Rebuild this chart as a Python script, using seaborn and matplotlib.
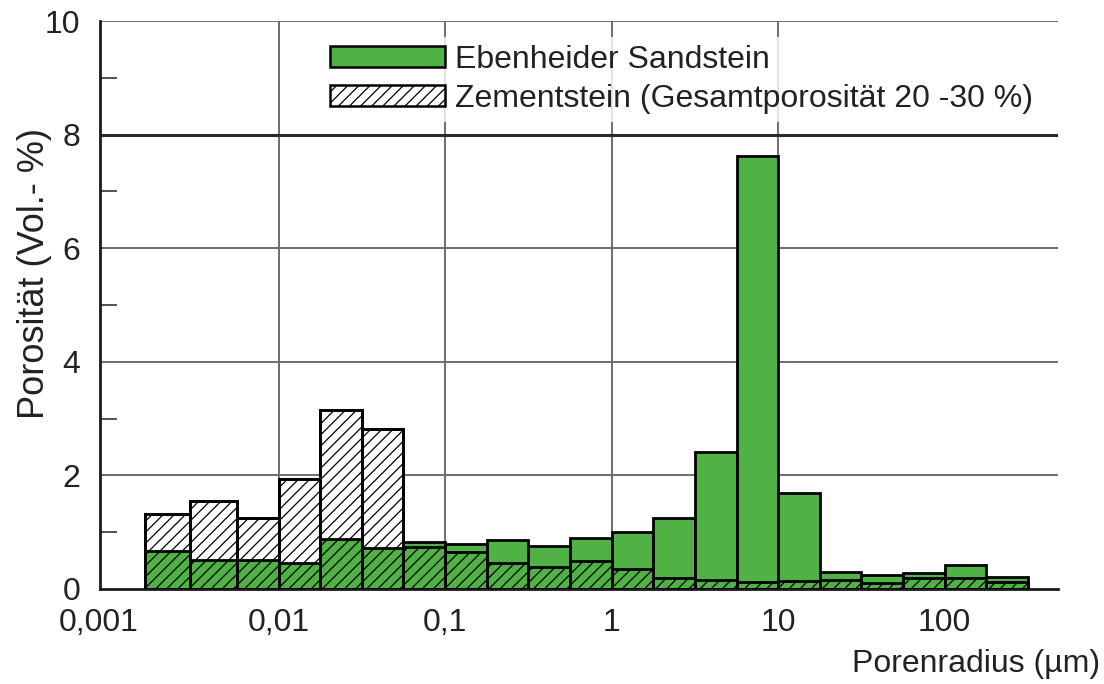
import numpy as np
import pandas as pd
import matplotlib.pyplot as plt
import matplotlib.ticker as mticker
import matplotlib.transforms as mtransforms
from matplotlib.patches import Patch
import seaborn as sns

# bin edges as log10 of pore radius (um)
bin_edges_log = [-2.80, -2.53, -2.25, -2.00, -1.75, -1.50, -1.25, -1.00, -0.75, -0.50, -0.25,
                 0.00, 0.25, 0.50, 0.75, 1.00, 1.25, 1.50, 1.75, 2.00, 2.25, 2.50]

sandstein = [0.67, 0.51, 0.51, 0.46, 0.88, 0.72, 0.83, 0.79, 0.86, 0.76, 0.90,
             1.00, 1.25, 2.41, 7.63, 1.69, 0.30, 0.25, 0.28, 0.42, 0.21]
zementstein = [1.32, 1.55, 1.25, 1.93, 3.15, 2.81, 0.74, 0.65, 0.46, 0.39, 0.49,
               0.35, 0.19, 0.15, 0.12, 0.14, 0.16, 0.11, 0.19, 0.19, 0.12]

x_ticks = [0.001, 0.01, 0.1, 1, 10, 100]
x_ticklabels = ["0,001", "0,01", "0,1", "1", "10", "100"]

green = "#50b245"

edges = np.array(bin_edges_log)
df = pd.DataFrame({
    "radius": 10 ** ((edges[:-1] + edges[1:]) / 2),
    "sand": sandstein,
    "zement": zementstein,
})

sns.set_style("white")
plt.rcParams["font.family"] = ["Liberation Sans", "DejaVu Sans"]
plt.rcParams["hatch.linewidth"] = 0.9

fig = plt.figure(figsize=(11.04, 6.84), dpi=100)
ax = fig.add_axes([100 / 1104, 1 - 589 / 684, 958 / 1104, 568 / 684])

lw = 2.0
# white Zementstein bars behind, then the sandstone, then the hatch on top
sns.histplot(data=df, x="radius", weights="zement", bins=bin_edges_log, log_scale=True,
             color="white", edgecolor="black", linewidth=lw, alpha=1, ax=ax, zorder=3)
sns.histplot(data=df, x="radius", weights="sand", bins=bin_edges_log, log_scale=True,
             color=green, edgecolor="black", linewidth=lw, alpha=1, ax=ax, zorder=4)
sns.histplot(data=df, x="radius", weights="zement", bins=bin_edges_log, log_scale=True,
             fill=False, color="black", hatch="///", linewidth=lw, ax=ax, zorder=5)

ax.set_xlim(10 ** -3.072, 10 ** 2.68)
ax.set_ylim(0, 10)

# grid
for g in [0.01, 0.1, 1, 10]:
    ax.axvline(g, color="#6e6e6e", lw=1.4, zorder=1)
for g in [2, 4, 6, 10]:
    ax.axhline(g, color="#6e6e6e", lw=1.4, zorder=1)
ax.axhline(8, color="#2a2a2a", lw=2.2, zorder=1)

ax.set_xticks(x_ticks)
ax.set_xticklabels(x_ticklabels)
ax.xaxis.set_minor_locator(mticker.NullLocator())
ax.set_yticks([0, 2, 4, 6, 8, 10])
ax.set_yticks([1, 3, 5, 7, 9], minor=True)
ax.tick_params(axis="x", length=0, labelsize=23, pad=14, colors="#222222")
ax.tick_params(axis="y", which="major", length=0, labelsize=23, pad=14, colors="#222222")
ax.tick_params(axis="y", which="minor", direction="in", length=12, width=1.3,
               color="#444444", left=True)

# the 0,001 label sits a little left of its decade in the original
first = ax.get_xticklabels()[0]
first.set_transform(first.get_transform() +
                    mtransforms.ScaledTranslation(-0.13, 0, fig.dpi_scale_trans))

for side in ["top", "right"]:
    ax.spines[side].set_visible(False)
for side in ["left", "bottom"]:
    ax.spines[side].set_color("#1a1a1a")
    ax.spines[side].set_linewidth(2)

ax.set_ylabel("Porosität (Vol.- %)", fontsize=26, color="#222222")
ax.yaxis.set_label_coords(-0.05, 0.556)
ax.set_xlabel("Porenradius (µm)", fontsize=23, color="#222222", ha="right")
ax.xaxis.set_label_coords(1.044, -0.105)

handles = [
    Patch(facecolor=green, edgecolor="black", linewidth=1.8),
    Patch(facecolor="white", edgecolor="black", linewidth=1.8, hatch="///"),
]
leg = ax.legend(handles, ["Ebenheider Sandstein", "Zementstein (Gesamtporosität 20 -30 %)"],
                loc="upper left", bbox_to_anchor=(0.232, 0.972), fontsize=23,
                frameon=True, fancybox=False, borderaxespad=0, borderpad=0.25,
                handlelength=3.6, handleheight=0.6, handletextpad=0.3,
                labelspacing=0.28)
leg.get_frame().set_facecolor("white")
leg.get_frame().set_linewidth(0)
leg.set_zorder(6)
for t in leg.get_texts():
    t.set_color("#222222")

fig.savefig("out.png", dpi=100)
